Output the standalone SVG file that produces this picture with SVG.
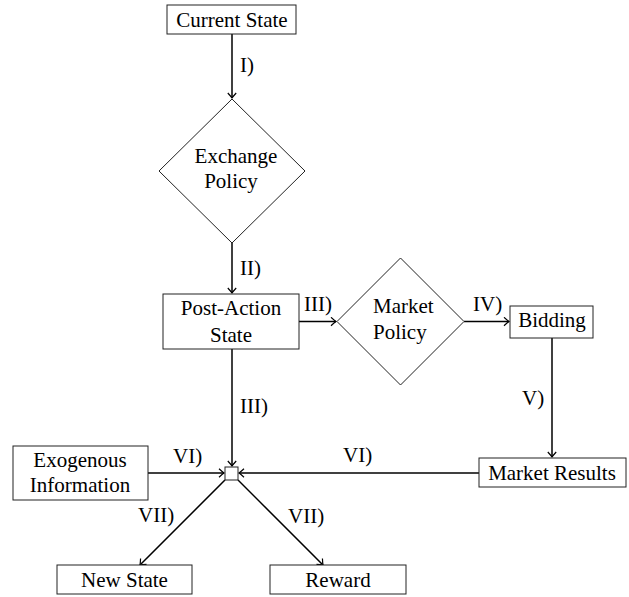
<svg xmlns="http://www.w3.org/2000/svg" width="629" height="597" viewBox="0 0 629 597" font-family="Liberation Serif" font-size="21">
<style>
.n{fill:#fff;stroke:#222;stroke-width:1}
.c{fill:none;stroke:#000;stroke-width:1.5}
</style>
<defs>
<marker id="ah" viewBox="-6 -5 8 10" refX="0" refY="0" markerWidth="8" markerHeight="10" markerUnits="userSpaceOnUse" orient="auto">
<path d="M-5,-4.2 Q-1.5,-1 0,0 Q-1.5,1 -5,4.2" fill="none" stroke="#000" stroke-width="1.2"/>
</marker>
</defs>
<rect width="629" height="597" fill="#fff"/>
<g id="connectors">
<line class="c" x1="232" y1="34" x2="232" y2="98" marker-end="url(#ah)"/>
<line class="c" x1="232" y1="243" x2="232" y2="293" marker-end="url(#ah)"/>
<line class="c" x1="299" y1="321.5" x2="336" y2="321.5" marker-end="url(#ah)"/>
<line class="c" x1="464" y1="321.5" x2="509" y2="321.5" marker-end="url(#ah)"/>
<line class="c" x1="552" y1="338" x2="552" y2="457" marker-end="url(#ah)"/>
<line class="c" x1="232" y1="349" x2="232" y2="466" marker-end="url(#ah)"/>
<line class="c" x1="148" y1="473" x2="224" y2="473" marker-end="url(#ah)"/>
<line class="c" x1="479" y1="473" x2="239" y2="473" marker-end="url(#ah)"/>
<line class="c" x1="225" y1="480" x2="140" y2="565" marker-end="url(#ah)"/>
<line class="c" x1="238" y1="480" x2="323" y2="565" marker-end="url(#ah)"/>
<text style="font-family:'Liberation Serif';font-size:21px" x="240" y="72">I)</text>
<text style="font-family:'Liberation Serif';font-size:21px" x="240" y="275">II)</text>
<text style="font-family:'Liberation Serif';font-size:21px" x="304" y="311">III)</text>
<text style="font-family:'Liberation Serif';font-size:21px" x="473" y="311">IV)</text>
<text style="font-family:'Liberation Serif';font-size:21px" x="522" y="405">V)</text>
<text style="font-family:'Liberation Serif';font-size:21px" x="240" y="413">III)</text>
<text style="font-family:'Liberation Serif';font-size:21px" x="173" y="463">VI)</text>
<text style="font-family:'Liberation Serif';font-size:21px" x="343" y="462">VI)</text>
<text style="font-family:'Liberation Serif';font-size:21px" x="138" y="522">VII)</text>
<text style="font-family:'Liberation Serif';font-size:21px" x="288" y="523">VII)</text>
</g>
<g id="current-state">
<rect class="n" x="167" y="5" width="129" height="29"/>
<text style="font-family:'Liberation Serif';font-size:21px" text-anchor="middle" x="232" y="27">Current State</text>
</g>
<g id="exchange-policy">
<polygon class="n" points="232,99 305,171 232,243 159,171"/>
<text style="font-family:'Liberation Serif';font-size:21px" text-anchor="middle" x="236" y="163">Exchange</text>
<text style="font-family:'Liberation Serif';font-size:21px" text-anchor="middle" x="231" y="188">Policy</text>
</g>
<g id="post-action-state">
<rect class="n" x="163" y="294" width="136" height="55"/>
<text style="font-family:'Liberation Serif';font-size:21px" text-anchor="middle" x="231" y="315">Post-Action</text>
<text style="font-family:'Liberation Serif';font-size:21px" text-anchor="middle" x="231" y="342">State</text>
</g>
<g id="market-policy">
<polygon class="n" points="400.5,258 464,321.5 400.5,385 337,321.5"/>
<text style="font-family:'Liberation Serif';font-size:21px" x="373" y="313">Market</text>
<text style="font-family:'Liberation Serif';font-size:21px" x="373" y="339">Policy</text>
</g>
<g id="bidding">
<rect class="n" x="510" y="306" width="83" height="32"/>
<text style="font-family:'Liberation Serif';font-size:21px" text-anchor="middle" x="552" y="327">Bidding</text>
</g>
<g id="market-results">
<rect class="n" x="479" y="458" width="147" height="29"/>
<text style="font-family:'Liberation Serif';font-size:21px" text-anchor="middle" x="552" y="480">Market Results</text>
</g>
<g id="exogenous-information">
<rect class="n" x="13" y="446" width="135" height="54"/>
<text style="font-family:'Liberation Serif';font-size:21px" text-anchor="middle" x="80" y="467">Exogenous</text>
<text style="font-family:'Liberation Serif';font-size:21px" text-anchor="middle" x="80" y="492">Information</text>
</g>
<g id="junction">
<rect class="n" x="225" y="467" width="13" height="13"/>
</g>
<g id="new-state">
<rect class="n" x="57" y="565" width="135" height="29"/>
<text style="font-family:'Liberation Serif';font-size:21px" text-anchor="middle" x="124.5" y="587">New State</text>
</g>
<g id="reward">
<rect class="n" x="270" y="565" width="136" height="29"/>
<text style="font-family:'Liberation Serif';font-size:21px" text-anchor="middle" x="338" y="587">Reward</text>
</g>
</svg>
